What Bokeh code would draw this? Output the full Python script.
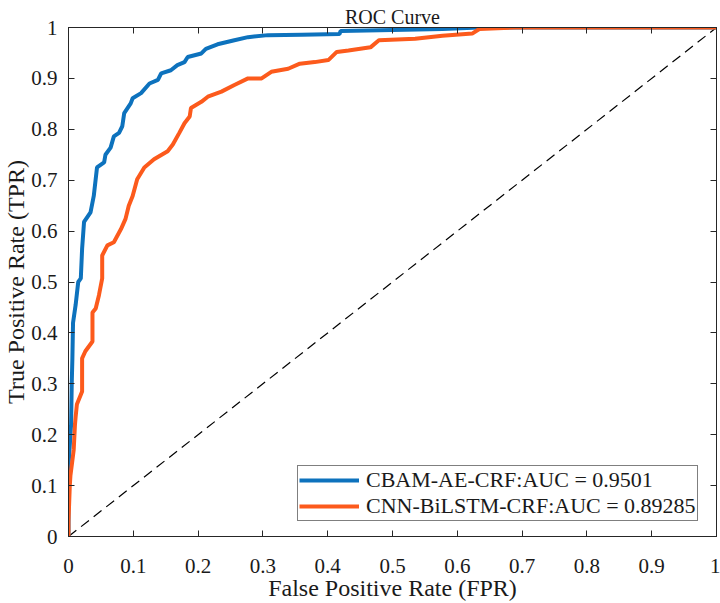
from bokeh.plotting import figure
from bokeh.models import Range1d, FixedTicker, LinearAxis, Legend, LegendItem, CustomJSTickFormatter
from bokeh.embed import file_html
from bokeh.resources import INLINE

# ---- data ----
cbam_fpr = [0.0, 0.0, 0.002, 0.004, 0.005, 0.006, 0.007, 0.011, 0.015, 0.019, 0.021, 0.024,
            0.034, 0.039, 0.044, 0.055, 0.057, 0.065, 0.070, 0.078, 0.083, 0.086, 0.096,
            0.099, 0.112, 0.125, 0.138, 0.143, 0.158, 0.168, 0.179, 0.184, 0.205, 0.212,
            0.230, 0.256, 0.277, 0.308, 0.360, 0.418, 0.420, 0.500, 0.577, 0.634, 1.0]
cbam_tpr = [0.0, 0.14, 0.18, 0.22, 0.30, 0.35, 0.42, 0.455, 0.50, 0.507, 0.565, 0.618,
            0.637, 0.669, 0.725, 0.735, 0.750, 0.764, 0.786, 0.793, 0.806, 0.832, 0.851,
            0.861, 0.871, 0.890, 0.897, 0.910, 0.916, 0.926, 0.932, 0.942, 0.949, 0.958,
            0.967, 0.975, 0.981, 0.985, 0.986, 0.987, 0.993, 0.995, 0.997, 1.0, 1.0]

cnn_fpr = [0.0, 0.0, 0.002, 0.003, 0.006, 0.008, 0.010, 0.011, 0.013, 0.021, 0.021, 0.026,
           0.037, 0.037, 0.042, 0.047, 0.052, 0.052, 0.060, 0.070, 0.081, 0.088, 0.093,
           0.099, 0.106, 0.117, 0.132, 0.153, 0.161, 0.171, 0.179, 0.187, 0.189, 0.205,
           0.215, 0.236, 0.256, 0.277, 0.298, 0.313, 0.339, 0.357, 0.380, 0.401, 0.414,
           0.432, 0.466, 0.479, 0.535, 0.577, 0.623, 0.634, 0.690, 1.0]
cnn_tpr = [0.0, 0.03, 0.10, 0.12, 0.15, 0.17, 0.22, 0.235, 0.26, 0.285, 0.35, 0.364,
           0.383, 0.44, 0.448, 0.474, 0.507, 0.552, 0.572, 0.578, 0.604, 0.624, 0.650,
           0.669, 0.702, 0.725, 0.741, 0.757, 0.770, 0.793, 0.812, 0.825, 0.842, 0.854,
           0.864, 0.874, 0.887, 0.900, 0.900, 0.913, 0.919, 0.929, 0.932, 0.936, 0.952,
           0.955, 0.961, 0.975, 0.978, 0.984, 0.988, 0.997, 1.0, 1.0]

diag_x = [0.0, 1.0]
diag_y = [0.0, 1.0]

tick_values = [0.0, 0.1, 0.2, 0.3, 0.4, 0.5, 0.6, 0.7, 0.8, 0.9, 1.0]
tick_labels = ["0", "0.1", "0.2", "0.3", "0.4", "0.5", "0.6", "0.7", "0.8", "0.9", "1"]

series_names = ["CBAM-AE-CRF:AUC = 0.9501", "CNN-BiLSTM-CRF:AUC = 0.89285"]
title_text = "ROC Curve"
x_label = "False Positive Rate (FPR)"
y_label = "True Positive Rate (TPR)"

FONT = "Liberation Serif"
TXT = "#1a1a1a"
AX = "#262626"
BLUE = "#0d72bd"
ORANGE = "#fc5a1c"

p = figure(width=720, height=603, output_backend="svg", toolbar_location=None,
           x_range=Range1d(0, 1), y_range=Range1d(0, 1),
           min_border_left=68, min_border_right=4, min_border_top=27, min_border_bottom=66,
           background_fill_color="white", border_fill_color="white")
p.xgrid.visible = False
p.ygrid.visible = False
p.outline_line_color = AX
p.outline_line_width = 1

p.title.text = title_text
p.title.align = "center"
p.title.text_font = FONT
p.title.text_font_size = "20px"
p.title.text_font_style = "normal"
p.title.text_color = TXT
p.title.standoff = 0

fmt_code = """
let idx = -1;
for (let i = 0; i < tvals.length; i++) { if (Math.abs(tvals[i] - tick) < 1e-9) { idx = i; } }
return idx >= 0 ? tlabs[idx] : '';
"""

for ax in (p.xaxis[0], p.yaxis[0]):
    ax.ticker = FixedTicker(ticks=tick_values)
    ax.formatter = CustomJSTickFormatter(args=dict(tvals=tick_values, tlabs=tick_labels),
                                         code=fmt_code)
    ax.major_tick_in = 6
    ax.major_tick_out = 0
    ax.minor_tick_line_color = None
    ax.axis_line_color = AX
    ax.major_tick_line_color = AX
    ax.major_label_text_font = FONT
    ax.major_label_text_font_size = "21px"
    ax.major_label_text_color = TXT
    ax.axis_label_text_font = FONT
    ax.axis_label_text_font_size = "24px"
    ax.axis_label_text_font_style = "normal"
    ax.axis_label_text_color = TXT

p.xaxis[0].axis_label = x_label
p.yaxis[0].axis_label = y_label
p.xaxis[0].major_label_standoff = 22
p.xaxis[0].axis_label_standoff = -1
p.yaxis[0].major_label_standoff = 11
p.yaxis[0].axis_label_standoff = -1

# mirrored axes (box with inward ticks)
top_ax = LinearAxis(ticker=FixedTicker(ticks=tick_values), major_tick_in=6, major_tick_out=0,
                    minor_tick_line_color=None, axis_line_color=AX, major_tick_line_color=AX,
                    major_label_text_font_size="0px", major_label_standoff=0,
                    major_label_text_color=None)
right_ax = LinearAxis(ticker=FixedTicker(ticks=tick_values), major_tick_in=6, major_tick_out=0,
                      minor_tick_line_color=None, axis_line_color=AX, major_tick_line_color=AX,
                      major_label_text_font_size="0px", major_label_standoff=0,
                      major_label_text_color=None)
p.add_layout(top_ax, "above")
p.add_layout(right_ax, "right")

p.line(diag_x, diag_y, line_color="black", line_width=1.2, line_dash="10 6")
r1 = p.line(cbam_fpr, cbam_tpr, line_color=BLUE, line_width=4)
r2 = p.line(cnn_fpr, cnn_tpr, line_color=ORANGE, line_width=4)

legend = Legend(items=[LegendItem(label=series_names[0], renderers=[r1]),
                       LegendItem(label=series_names[1], renderers=[r2])],
                location=(229, 15), margin=0, padding=1, spacing=0,
                glyph_width=60, glyph_height=24, label_height=24, label_standoff=7,
                label_text_font=FONT, label_text_font_size="22px", label_text_color=TXT,
                border_line_color="black", border_line_width=1,
                background_fill_color="white", background_fill_alpha=1.0)
p.add_layout(legend, "center")

open("out.html", "w").write(file_html(p, INLINE))
